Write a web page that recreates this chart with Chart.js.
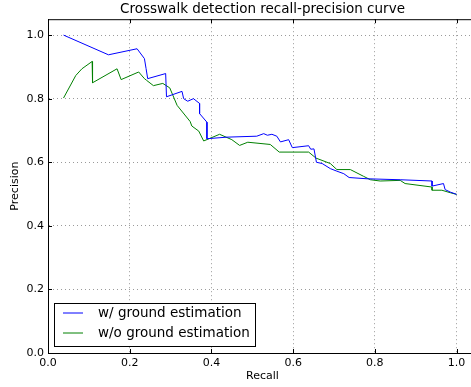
<!DOCTYPE html>
<html>
<head>
<meta charset="utf-8">
<script src="https://cdn.jsdelivr.net/npm/chart.js@4"></script>
<style>
  html, body { margin: 0; padding: 0; background: #fff; overflow: hidden; }
  #wrap { width: 478px; height: 387px; }
</style>
</head>
<body>
<div id="wrap"><canvas id="prChart" width="478" height="387"></canvas></div>
<script>
// Crosswalk detection recall-precision curve

const seriesLabels = ['w/ ground estimation', 'w/o ground estimation'];
const seriesColors = ['#0000ff', '#008000'];

// w/ ground estimation
const recallWith = [0.038, 0.148, 0.218, 0.236, 0.240, 0.244, 0.288, 0.290, 0.328, 0.332, 0.342, 0.356, 0.362,
    0.371, 0.371, 0.389, 0.389, 0.438, 0.511, 0.528, 0.537, 0.548, 0.560, 0.569, 0.589, 0.598, 0.638, 0.643,
    0.651, 0.657, 0.671, 0.691, 0.707, 0.724, 0.737, 0.781, 0.862, 0.940, 0.940, 0.968, 0.972, 0.985, 1.0];
const precisionWith = [1.000, 0.938, 0.957, 0.926, 0.895, 0.863, 0.879, 0.806, 0.823, 0.800, 0.792, 0.800, 0.794,
    0.785, 0.753, 0.726, 0.674, 0.679, 0.682, 0.690, 0.685, 0.688, 0.682, 0.664, 0.671, 0.646, 0.652, 0.641,
    0.642, 0.600, 0.596, 0.580, 0.572, 0.564, 0.552, 0.548, 0.545, 0.541, 0.525, 0.533, 0.514, 0.506, 0.499];

// w/o ground estimation
const recallWithout = [0.038, 0.068, 0.083, 0.108, 0.109, 0.169, 0.179, 0.222, 0.236, 0.241, 0.258, 0.281, 0.298,
    0.316, 0.348, 0.352, 0.369, 0.381, 0.420, 0.450, 0.469, 0.489, 0.544, 0.566, 0.638, 0.656, 0.691, 0.707,
    0.740, 0.772, 0.789, 0.813, 0.862, 0.874, 0.940, 0.940, 0.964, 0.985, 1.0];
const precisionWithout = [0.802, 0.873, 0.894, 0.917, 0.850, 0.894, 0.860, 0.884, 0.863, 0.858, 0.841, 0.848, 0.834,
    0.779, 0.728, 0.714, 0.698, 0.667, 0.688, 0.671, 0.653, 0.663, 0.656, 0.632, 0.632, 0.613, 0.596, 0.577,
    0.577, 0.556, 0.545, 0.541, 0.543, 0.533, 0.522, 0.512, 0.512, 0.504, 0.499];

const xTicks = [0.0, 0.2, 0.4, 0.6, 0.8, 1.0];
const yTicks = [0.0, 0.2, 0.4, 0.6, 0.8, 1.0];

const FONT = 'DejaVu Sans';

const toPoints = (xs, ys) => xs.map((x, i) => ({ x: x, y: ys[i] }));

// frame, inward ticks and the boxed legend, matplotlib style
const framePlugin = {
    id: 'frame',
    afterDraw(chart) {
        const ctx = chart.ctx;
        const a = chart.chartArea;
        const xs = chart.scales.x, ys = chart.scales.y;
        ctx.save();
        ctx.setLineDash([]);
        ctx.strokeStyle = '#000';
        ctx.lineWidth = 1;
        ctx.beginPath();
        ctx.moveTo(a.left, a.top + 0.5);
        ctx.lineTo(a.right, a.top + 0.5);
        xTicks.forEach(v => {
            const px = Math.round(xs.getPixelForValue(v)) + 0.5;
            ctx.moveTo(px, a.bottom); ctx.lineTo(px, a.bottom - 4);
            ctx.moveTo(px, a.top); ctx.lineTo(px, a.top + 4);
        });
        yTicks.forEach(v => {
            const py = Math.round(ys.getPixelForValue(v)) + 0.5;
            ctx.moveTo(a.left, py); ctx.lineTo(a.left + 4, py);
        });
        ctx.stroke();

        // legend box
        const bx = 54.5, by = 303.5, bw = 201, bh = 43;
        ctx.fillStyle = '#fff';
        ctx.fillRect(bx, by, bw, bh);
        ctx.strokeStyle = '#000';
        ctx.strokeRect(bx, by, bw, bh);
        ctx.font = '13.5px "' + FONT + '"';
        ctx.textBaseline = 'middle';
        ctx.textAlign = 'left';
        seriesLabels.forEach((label, i) => {
            const y = 313 + i * 20;
            ctx.strokeStyle = seriesColors[i];
            ctx.beginPath();
            ctx.moveTo(63, y);
            ctx.lineTo(83, y);
            ctx.stroke();
            ctx.fillStyle = '#000';
            ctx.fillText(label, 98, y);
        });
        ctx.restore();
    }
};

const gridDots = { color: '#9a9a9a', lineWidth: 1, drawTicks: false };

new Chart(document.getElementById('prChart'), {
    type: 'scatter',
    data: {
        datasets: [{
            label: seriesLabels[0],
            data: toPoints(recallWith, precisionWith),
            borderColor: seriesColors[0],
            borderWidth: 1,
            showLine: true,
            pointRadius: 0,
            tension: 0
        }, {
            label: seriesLabels[1],
            data: toPoints(recallWithout, precisionWithout),
            borderColor: seriesColors[1],
            borderWidth: 1,
            showLine: true,
            pointRadius: 0,
            tension: 0
        }]
    },
    options: {
        responsive: false,
        animation: false,
        layout: { padding: { top: 0, right: 1, left: 0, bottom: 0 } },
        plugins: {
            legend: { display: false },
            tooltip: { enabled: false },
            title: {
                display: true,
                text: 'Crosswalk detection recall-precision curve',
                fullSize: false,
                color: '#000',
                font: { family: FONT, size: 13.5, weight: 'normal' },
                padding: { top: 1, bottom: 2 }
            }
        },
        scales: {
            x: {
                type: 'linear',
                min: 0,
                max: 1.05,
                afterBuildTicks: s => { s.ticks = xTicks.map(v => ({ value: v })); },
                afterFit: s => { s.height = 34; },
                border: { display: true, color: '#000', width: 1, dash: [1, 3] },
                grid: gridDots,
                ticks: {
                    color: '#000',
                    padding: 4,
                    maxRotation: 0,
                    font: { family: FONT, size: 11 },
                    callback: v => v.toFixed(1)
                },
                title: {
                    display: true,
                    text: 'Recall',
                    color: '#000',
                    font: { family: FONT, size: 11 },
                    padding: { top: 0, bottom: 4 }
                }
            },
            y: {
                type: 'linear',
                min: 0,
                max: 1.05,
                afterBuildTicks: s => { s.ticks = yTicks.map(v => ({ value: v })); },
                afterFit: s => { s.width = 48; },
                border: { display: true, color: '#000', width: 1, dash: [1, 3] },
                grid: gridDots,
                ticks: {
                    color: '#000',
                    padding: 4,
                    font: { family: FONT, size: 11 },
                    callback: v => v.toFixed(1)
                },
                title: {
                    display: true,
                    text: 'Precision',
                    color: '#000',
                    font: { family: FONT, size: 11 },
                    padding: { top: 9, bottom: 0 }
                }
            }
        }
    },
    plugins: [framePlugin]
});
</script>
</body>
</html>
